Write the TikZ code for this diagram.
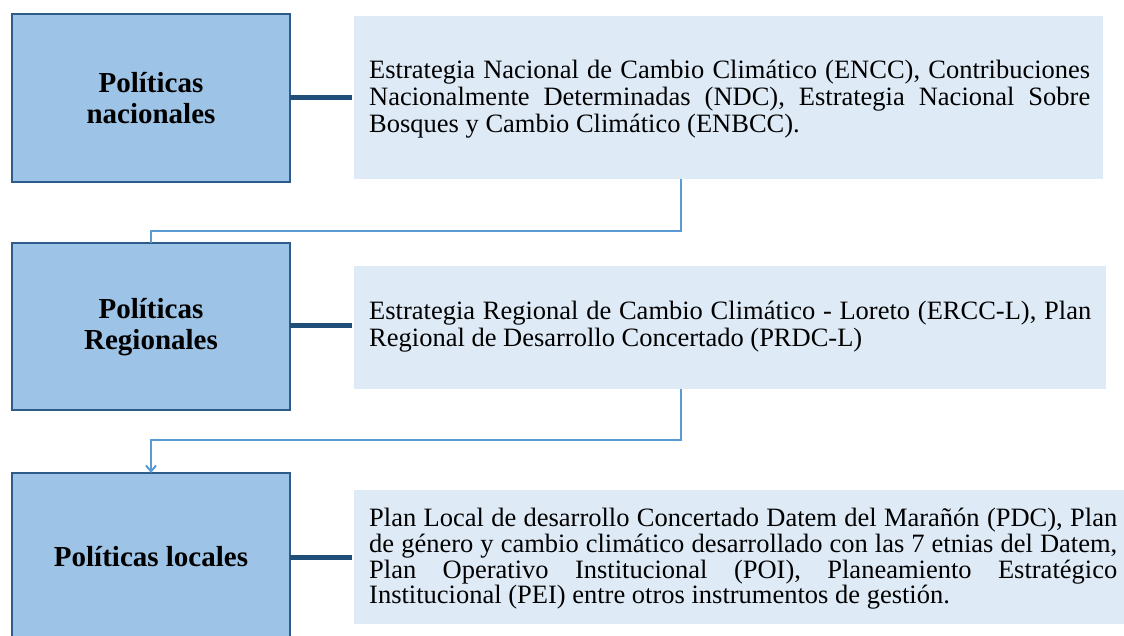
\documentclass[tikz,border=0pt]{standalone}
\usepackage{fontspec}
\setmainfont{Liberation Serif}
\usetikzlibrary{arrows.meta}
\definecolor{boxfill}{HTML}{9DC3E6}
\definecolor{boxdraw}{HTML}{2E5C8A}
\definecolor{thickline}{HTML}{1F4E79}
\definecolor{txtfill}{HTML}{DEEAF6}
\definecolor{thinline}{HTML}{5B9BD5}
\tikzset{
  levelbox/.style={draw=boxdraw,line width=2pt,fill=boxfill},
  infobox/.style={fill=txtfill,draw=none},
  labeltext/.style={font=\fontsize{29}{31.5}\selectfont\bfseries,align=center},
  bodytext/.style={font=\fontsize{26.5}{27}\selectfont,align=left,anchor=west,inner sep=0pt},
  tie/.style={draw=thickline,line width=5pt},
  flow/.style={draw=thinline,line width=2pt},
}
\newcommand{\jline}[2]{\makebox[#1][s]{#2}}
\begin{document}
\begin{tikzpicture}[x=1pt,y=-1pt]
\useasboundingbox (0,0) rectangle (1124,635);
% level boxes
\draw[levelbox] (12,14) rectangle (290,182);
\draw[levelbox] (12,243) rectangle (290,410);
\draw[levelbox] (12,473) rectangle (290,645);
\node[labeltext] (nac) at (151,98) {Políticas\\nacionales};
\node[labeltext] (reg) at (151,327) {Políticas\\Regionales};
\node[labeltext] (loc) at (151,557) {Políticas locales};
\coordinate (b1top) at (151,243);
\coordinate (b3top) at (151,473);
\coordinate (b1r) at (290,97.5);
\coordinate (b2r) at (290,325);
\coordinate (b3r) at (290,557);
% info boxes
\fill[infobox] (354,16) rectangle (1103,179);
\fill[infobox] (354,266) rectangle (1106,389);
\fill[infobox] (354,490) rectangle (1130,624);
\coordinate (i1l) at (352,97.5);
\coordinate (i2l) at (352,325);
\coordinate (i3l) at (352,557);
\coordinate (i1b) at (681,179);
\coordinate (i2b) at (681,389);
\node[bodytext] (t1) at (369,99) {\jline{721pt}{Estrategia Nacional de Cambio Climático (ENCC), Contribuciones}\\
\jline{721pt}{Nacionalmente Determinadas (NDC), Estrategia Nacional Sobre}\\
Bosques y Cambio Climático (ENBCC).};
\node[bodytext] (t2) at (369,327) {\jline{722pt}{Estrategia Regional de Cambio Climático - Loreto (ERCC-L), Plan}\\
Regional de Desarrollo Concertado (PRDC-L)};
\node[bodytext,font=\fontsize{26.5}{25.7}\selectfont] (t3) at (369,559) {\jline{748pt}{Plan Local de desarrollo Concertado Datem del Marañón (PDC), Plan}\\
\jline{748pt}{de género y cambio climático desarrollado con las 7 etnias del Datem,}\\
\jline{748pt}{Plan Operativo Institucional (POI), Planeamiento Estratégico}\\
Institucional (PEI) entre otros instrumentos de gestión.};
% connectors
\draw[tie] (b1r) -- (i1l);
\draw[tie] (b2r) -- (i2l);
\draw[tie] (b3r) -- (i3l);
\draw[flow] (i1b) |- (416,231) -| (b1top);
\draw[flow,-{Straight Barb[length=6pt,width=10pt]}] (i2b) |- (416,440) -| (b3top);
\end{tikzpicture}
\end{document}
